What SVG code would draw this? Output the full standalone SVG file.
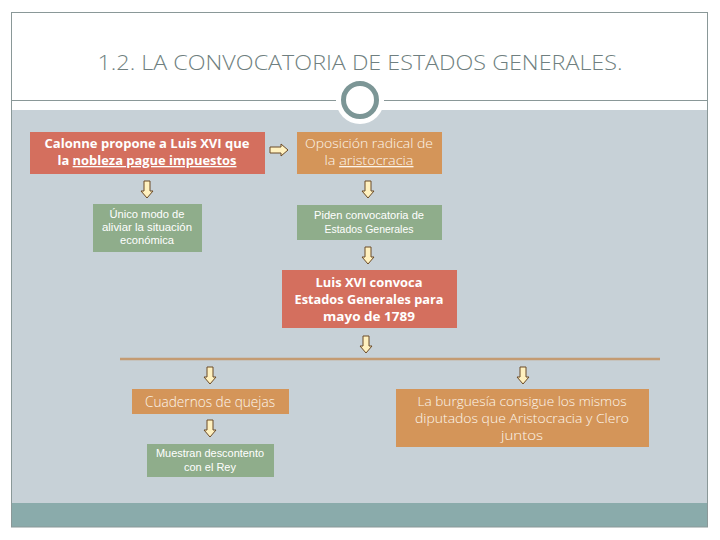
<svg xmlns="http://www.w3.org/2000/svg" width="720" height="540" viewBox="0 0 720 540">
<defs>
<style>
.bold{font-family:"Open Sans","Noto Sans","DejaVu Sans",sans-serif;font-weight:700;fill:#ffffff;text-anchor:middle}
.light{font-family:"Open Sans","Noto Sans","DejaVu Sans",sans-serif;font-weight:300;fill:#fdf6ec;text-anchor:middle}
.small{font-family:"Liberation Sans","Noto Sans",sans-serif;font-weight:400;fill:#ffffff;text-anchor:middle;font-size:10.5px}
.red{fill:#d46f5e}
.orange{fill:#d49559}
.green{fill:#8fad8b}
.arr{fill:#fff1bf;stroke:#6b4a26;stroke-width:1}
</style>
<path id="down" d="M-3,0 H3 V10 H6 L0,17 L-6,10 H-3 Z"/>
</defs>
<rect x="0" y="0" width="720" height="540" fill="#ffffff"/>
<rect x="11" y="110" width="697" height="393" fill="#c7d1d7"/>
<rect x="11" y="503" width="697" height="24" fill="#8aabab"/>
<rect x="11.5" y="12.5" width="696" height="514.5" fill="none" stroke="#8a9898" stroke-width="1"/>
<line x1="11" y1="100.5" x2="336" y2="100.5" stroke="#8a9898" stroke-width="1"/>
<line x1="384" y1="100.5" x2="708" y2="100.5" stroke="#8a9898" stroke-width="1"/>
<circle cx="360" cy="100" r="24" fill="#ffffff"/>
<circle cx="360" cy="100" r="16.5" fill="#ffffff" stroke="#7c9696" stroke-width="5"/>
<text x="360" y="70" font-family="'Open Sans','Noto Sans','DejaVu Sans',sans-serif" font-weight="300" font-size="20" fill="#6f7f80" text-anchor="middle" textLength="525" lengthAdjust="spacingAndGlyphs">1.2. LA CONVOCATORIA DE ESTADOS GENERALES.</text>

<g id="connectors">
<line x1="120" y1="359" x2="660" y2="359" stroke="#c49b72" stroke-width="2.5"/>
<path class="arr" d="M270,147 H281 V144 L288,150 L281,156 V153 H270 Z"/>
<use href="#down" class="arr" x="147" y="181"/>
<use href="#down" class="arr" x="368" y="181"/>
<use href="#down" class="arr" x="368" y="247"/>
<use href="#down" class="arr" x="366" y="336"/>
<use href="#down" class="arr" x="210" y="367"/>
<use href="#down" class="arr" x="523" y="367"/>
<use href="#down" class="arr" x="210" y="420"/>
</g>

<g id="calonne">
<rect class="red" x="30" y="132" width="235" height="42"/>
<text class="bold" x="147" y="148" font-size="13" textLength="205" lengthAdjust="spacingAndGlyphs">Calonne propone a Luis XVI que</text>
<text class="bold" x="147" y="165" font-size="13" textLength="179" lengthAdjust="spacingAndGlyphs">la <tspan text-decoration="underline">nobleza pague impuestos</tspan></text>
</g>

<g id="oposicion">
<rect class="orange" x="297" y="132" width="145" height="42"/>
<text class="light" x="369" y="148" font-size="13" textLength="128" lengthAdjust="spacingAndGlyphs">Oposición radical de</text>
<text class="light" x="369" y="165" font-size="13" textLength="89" lengthAdjust="spacingAndGlyphs">la <tspan text-decoration="underline">aristocracia</tspan></text>
</g>

<g id="unico">
<rect class="green" x="93" y="204" width="109" height="48"/>
<text class="small" x="147" y="218" textLength="75" lengthAdjust="spacingAndGlyphs">Único modo de</text>
<text class="small" x="147" y="231" textLength="90" lengthAdjust="spacingAndGlyphs">aliviar la situación</text>
<text class="small" x="147" y="244" textLength="54" lengthAdjust="spacingAndGlyphs">económica</text>
</g>

<g id="piden">
<rect class="green" x="297" y="205" width="145" height="35"/>
<text class="small" x="369" y="219" textLength="110" lengthAdjust="spacingAndGlyphs">Piden convocatoria de</text>
<text class="small" x="369" y="233" textLength="89" lengthAdjust="spacingAndGlyphs">Estados Generales</text>
</g>

<g id="convoca">
<rect class="red" x="282" y="270" width="175" height="58"/>
<text class="bold" x="369" y="287" font-size="13" textLength="107" lengthAdjust="spacingAndGlyphs">Luis XVI convoca</text>
<text class="bold" x="369" y="304" font-size="13" textLength="149" lengthAdjust="spacingAndGlyphs">Estados Generales para</text>
<text class="bold" x="369" y="321" font-size="13" textLength="92" lengthAdjust="spacingAndGlyphs">mayo de 1789</text>
</g>

<g id="cuadernos">
<rect class="orange" x="132" y="389" width="157" height="25"/>
<text class="light" x="210" y="407" font-size="14" textLength="130" lengthAdjust="spacingAndGlyphs">Cuadernos de quejas</text>
</g>

<g id="muestran">
<rect class="green" x="147" y="444" width="127" height="33"/>
<text class="small" x="210" y="457" textLength="108" lengthAdjust="spacingAndGlyphs">Muestran descontento</text>
<text class="small" x="210" y="471" textLength="52" lengthAdjust="spacingAndGlyphs">con el Rey</text>
</g>

<g id="burguesia">
<rect class="orange" x="396" y="389" width="253" height="58"/>
<text class="light" x="522" y="406" font-size="13" textLength="209" lengthAdjust="spacingAndGlyphs">La burguesía consigue los mismos</text>
<text class="light" x="522" y="423" font-size="13" textLength="214" lengthAdjust="spacingAndGlyphs">diputados que Aristocracia y Clero</text>
<text class="light" x="522" y="440" font-size="13" textLength="42" lengthAdjust="spacingAndGlyphs">juntos</text>
</g>
</svg>
